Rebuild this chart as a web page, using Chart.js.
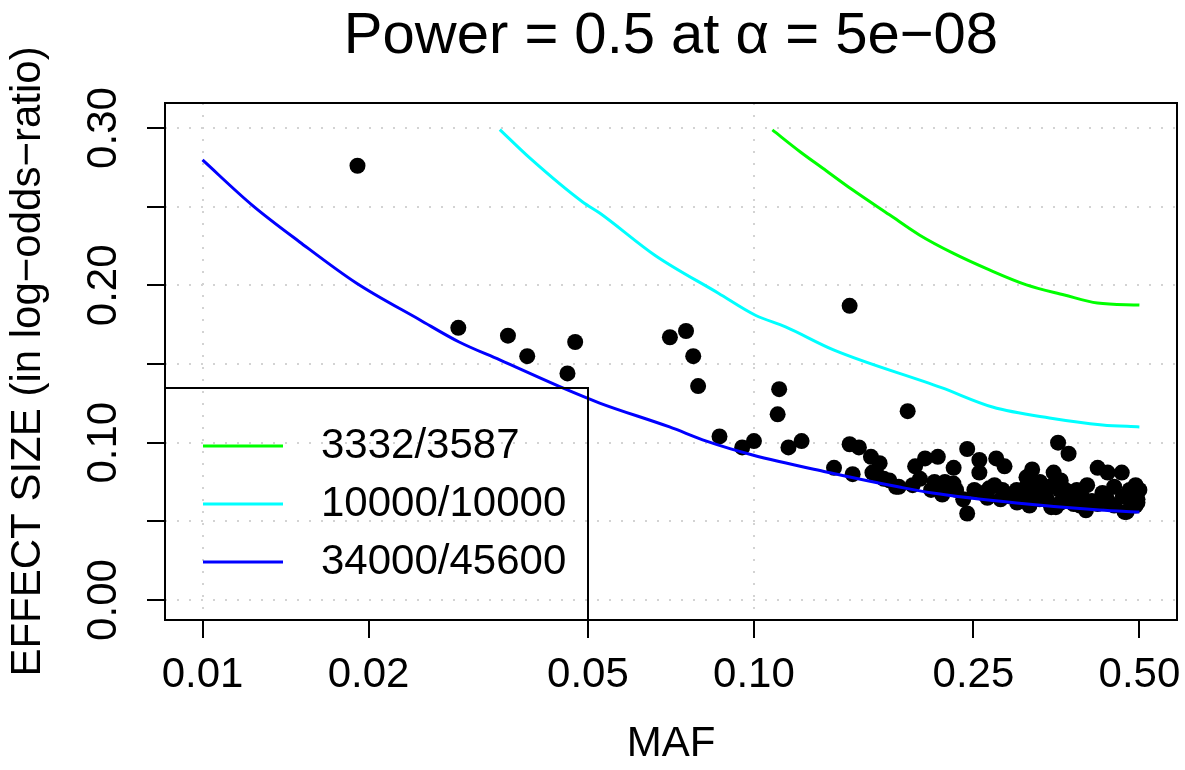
<!DOCTYPE html>
<html>
<head>
<meta charset="utf-8">
<script src="https://cdn.jsdelivr.net/npm/chart.js@4.4.1/dist/chart.umd.min.js"></script>
<style>
  html, body { margin: 0; padding: 0; background: #fff; }
  #wrap { width: 1185px; height: 770px; }
</style>
</head>
<body>
<div id="wrap"><canvas id="powerChart" width="1185" height="770"></canvas></div>
<script>
// Axis ticks
const xTicks = [0.01, 0.02, 0.05, 0.10, 0.25, 0.50];
const xTickLabels = ['0.01', '0.02', '0.05', '0.10', '0.25', '0.50'];
const xGridAt = [0.01, 0.10];
const yTicks = [0, 0.05, 0.10, 0.15, 0.20, 0.25, 0.30];
const yLabelValues = [0, 0.10, 0.20, 0.30];
const yTickLabels = ['0.00', '0.10', '0.20', '0.30'];

// Power curves (sample sizes cases/controls)
const seriesNames = ['3332/3587', '10000/10000', '34000/45600'];
const seriesColors = ['#00ff00', '#00ffff', '#0000ff'];

const greenMaf = [0.108, 0.1214, 0.1331, 0.1509, 0.1761, 0.1995, 0.2291, 0.2673, 0.312, 0.3656, 0.4196, 0.5];
const greenEffect = [0.2988, 0.2848, 0.2746, 0.2607, 0.2448, 0.232, 0.2206, 0.2098, 0.2003, 0.1939, 0.1888, 0.1875];

const cyanMaf = [0.0346, 0.0392, 0.0489, 0.0525, 0.0662, 0.0862, 0.1006, 0.1141, 0.1394, 0.2188, 0.2707, 0.3435, 0.4285, 0.5];
const cyanEffect = [0.299, 0.281, 0.253, 0.246, 0.219, 0.195, 0.181, 0.1736, 0.159, 0.135, 0.1227, 0.1157, 0.1113, 0.110];

const blueMaf = [0.01, 0.0123, 0.015, 0.019, 0.0248, 0.0292, 0.0346, 0.045, 0.0525, 0.0703, 0.082, 0.0994, 0.1353, 0.1835, 0.2107, 0.2992, 0.4231, 0.5];
const blueEffect = [0.2797, 0.251, 0.2276, 0.2015, 0.178, 0.164, 0.1526, 0.1348, 0.1252, 0.110, 0.101, 0.0922, 0.0814, 0.0718, 0.068, 0.0617, 0.0572, 0.0559];

// Observed SNPs
const snpMaf = [
  0.0191, 0.0291, 0.0358, 0.0388, 0.0459, 0.0474, 0.0704, 0.0753, 0.0776, 0.0792,
  0.0866, 0.0952, 0.1000, 0.1111, 0.1104, 0.1155, 0.1220, 0.1491, 0.1397, 0.1491,
  0.1550, 0.1510, 0.1630, 0.1690, 0.1640, 0.1670, 0.1720, 0.1810, 0.1900, 0.1760,
  0.1830, 0.1940, 0.1960, 0.2043, 0.2155, 0.2302, 0.2436, 0.2563, 0.2563, 0.2750,
  0.2847, 0.2125, 0.2220, 0.2095, 0.2195, 0.2326, 0.2396, 0.2436, 0.2510, 0.2670,
  0.2730, 0.2822, 0.2995, 0.3070, 0.3195, 0.3120, 0.3495, 0.3560, 0.3720, 0.4200,
  0.4380, 0.4645, 0.4020, 0.4922, 0.3120, 0.3250, 0.3435, 0.3580, 0.3670, 0.3720,
  0.3930, 0.4285, 0.4350, 0.4665, 0.4960, 0.4960, 0.3295, 0.3160, 0.3460, 0.3528,
  0.4000, 0.4740, 0.4700, 0.4800, 0.4920, 0.2900, 0.3300, 0.3800, 0.4100, 0.4500,
  0.4500, 0.2650, 0.3000, 0.2600, 0.2800, 0.3100, 0.3400, 0.3600, 0.3900, 0.4200,
  0.4400, 0.4800, 0.5000, 0.3600, 0.3300, 0.3850, 0.2200, 0.2000, 0.2300
];
const snpEffect = [
  0.276, 0.173, 0.168, 0.155, 0.144, 0.164, 0.167, 0.171, 0.155, 0.136,
  0.104, 0.097, 0.101, 0.134, 0.118, 0.097, 0.101, 0.187, 0.084, 0.099,
  0.097, 0.080, 0.091, 0.087, 0.081, 0.080, 0.077, 0.072, 0.120, 0.076,
  0.072, 0.073, 0.085, 0.090, 0.091, 0.084, 0.096, 0.089, 0.081, 0.090,
  0.085, 0.075, 0.075, 0.070, 0.067, 0.070, 0.064, 0.055, 0.070, 0.071,
  0.073, 0.070, 0.070, 0.065, 0.083, 0.078, 0.081, 0.100, 0.093, 0.084,
  0.081, 0.081, 0.073, 0.073, 0.072, 0.069, 0.072, 0.070, 0.070, 0.066,
  0.066, 0.068, 0.066, 0.066, 0.064, 0.062, 0.064, 0.060, 0.059, 0.059,
  0.057, 0.056, 0.056, 0.064, 0.060, 0.066, 0.075, 0.061, 0.063, 0.060,
  0.072, 0.065, 0.062, 0.068, 0.064, 0.066, 0.064, 0.062, 0.060, 0.061,
  0.062, 0.070, 0.070, 0.076, 0.070, 0.070, 0.072, 0.077, 0.074
];

const titleText = 'Power = 0.5 at \u03B1 = 5e\u221208';
const xTitle = 'MAF';
const yTitle = 'EFFECT SIZE (in log\u2212odds\u2212ratio)';

const FONT = '"Liberation Sans", Arial, sans-serif';
Chart.defaults.font.family = FONT;
Chart.defaults.color = '#000';

const toPoints = (xs, ys) => xs.map((x, i) => ({ x: x, y: ys[i] }));

// R-style frame, title, rotated y labels and legend box
const rFrame = {
  id: 'rFrame',
  afterDraw(chart) {
    const { ctx, chartArea: a } = chart;
    const yScale = chart.scales.y;
    ctx.save();
    ctx.strokeStyle = '#000';
    ctx.lineWidth = 2;
    ctx.strokeRect(a.left, a.top, a.right - a.left, a.bottom - a.top);

    ctx.fillStyle = '#000';
    ctx.textAlign = 'center';
    ctx.textBaseline = 'middle';
    ctx.font = '58px ' + FONT;
    ctx.fillText(titleText, (a.left + a.right) / 2, 37);

    ctx.font = '42px ' + FONT;
    yLabelValues.forEach((v, i) => {
      ctx.save();
      ctx.translate(a.left - 61, yScale.getPixelForValue(v));
      ctx.rotate(-Math.PI / 2);
      ctx.fillText(yTickLabels[i], 0, 0);
      ctx.restore();
    });

    // legend
    const lx = a.left, ly = a.bottom - 232;
    ctx.lineWidth = 2;
    ctx.strokeRect(lx, ly, 423, 232);
    ctx.font = '42px ' + FONT;
    ctx.textAlign = 'left';
    seriesNames.forEach((name, i) => {
      const yy = ly + 58 + i * 58;
      ctx.strokeStyle = seriesColors[i];
      ctx.lineWidth = 3;
      ctx.beginPath();
      ctx.moveTo(lx + 38, yy);
      ctx.lineTo(lx + 118, yy);
      ctx.stroke();
      ctx.fillText(name, lx + 156, yy);
    });
    ctx.restore();
  }
};

const lineDs = (maf, eff, i) => ({
  label: seriesNames[i],
  data: toPoints(maf, eff),
  showLine: true,
  borderColor: seriesColors[i],
  backgroundColor: seriesColors[i],
  borderWidth: 3,
  pointRadius: 0,
  cubicInterpolationMode: 'monotone',
  order: 0
});

new Chart(document.getElementById('powerChart'), {
  type: 'scatter',
  data: {
    datasets: [
      lineDs(greenMaf, greenEffect, 0),
      lineDs(cyanMaf, cyanEffect, 1),
      lineDs(blueMaf, blueEffect, 2),
      {
        label: 'SNPs',
        data: toPoints(snpMaf, snpEffect),
        pointRadius: 8,
        pointBorderWidth: 0,
        pointBackgroundColor: '#000',
        borderColor: '#000',
        order: 1
      }
    ]
  },
  options: {
    responsive: false,
    animation: false,
    layout: { padding: { left: 0, right: 8, top: 103, bottom: 0 } },
    plugins: {
      legend: { display: false },
      tooltip: { enabled: false }
    },
    scales: {
      x: {
        type: 'logarithmic',
        min: 0.00855,
        max: 0.585,
        afterBuildTicks: (scale) => { scale.ticks = xTicks.map(v => ({ value: v })); },
        afterFit: (scale) => {
          scale.height = 150;
          scale.paddingLeft = 0;
          scale.paddingRight = 0;
        },
        ticks: {
          autoSkip: false,
          maxRotation: 0,
          padding: 12,
          font: { size: 42 },
          color: '#000',
          callback: (value, index) => xTickLabels[index]
        },
        grid: {
          color: (c) => (c.tick && xGridAt.some(g => Math.abs(g - c.tick.value) < 1e-9)) ? '#d3d3d3' : 'rgba(0,0,0,0)',
          lineWidth: 2,
          tickColor: '#000',
          tickLength: 18,
          tickWidth: 2
        },
        border: { display: false, dash: [2, 10] },
        title: {
          display: true,
          text: xTitle,
          font: { size: 42 },
          color: '#000',
          padding: { top: 0, bottom: 0 }
        }
      },
      y: {
        type: 'linear',
        min: -0.0127,
        max: 0.3159,
        afterBuildTicks: (scale) => { scale.ticks = yTicks.map(v => ({ value: v })); },
        afterFit: (scale) => { scale.width = 165; },
        ticks: { display: false },
        grid: {
          color: '#d3d3d3',
          lineWidth: 2,
          tickColor: '#000',
          tickLength: 18,
          tickWidth: 2
        },
        border: { display: false, dash: [2, 10] },
        title: {
          display: true,
          text: yTitle,
          font: { size: 42 },
          color: '#000',
          padding: { top: 3, bottom: 0 }
        }
      }
    }
  },
  plugins: [rFrame]
});
</script>
</body>
</html>
